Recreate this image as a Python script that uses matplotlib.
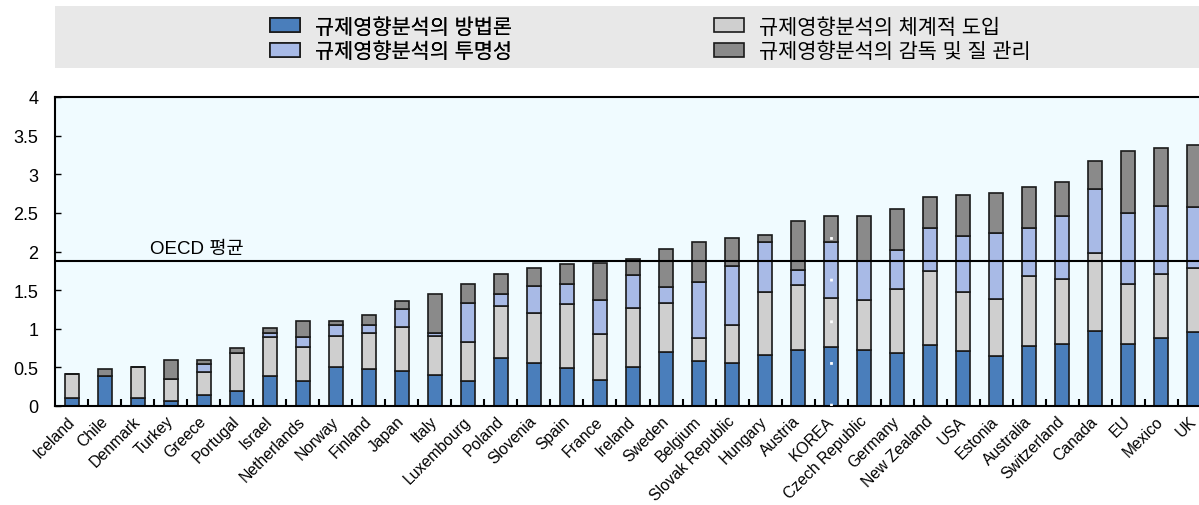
import matplotlib
matplotlib.use("Agg")
import matplotlib.pyplot as plt
from matplotlib.patches import Rectangle, Patch
import numpy as np

plt.rcParams['font.family'] = ['Liberation Sans', 'Noto Sans CJK KR']

# 국가 (정렬 순서 그대로)
paises = ["Iceland", "Chile", "Denmark", "Turkey", "Greece", "Portugal", "Israel",
          "Netherlands", "Norway", "Finland", "Japan", "Italy", "Luxembourg", "Poland",
          "Slovenia", "Spain", "France", "Ireland", "Sweden", "Belgium",
          "Slovak Republic", "Hungary", "Austria", "KOREA", "Czech Republic",
          "Germany", "New Zealand", "USA", "Estonia", "Australia", "Switzerland",
          "Canada", "EU", "Mexico", "UK"]

# 각 구성요소 점수 (쌓는 순서: 방법론, 체계적 도입, 투명성, 감독 및 질 관리)
metodologia = [0.10, 0.385, 0.11, 0.06, 0.14, 0.19, 0.39, 0.33, 0.505, 0.485, 0.458,
               0.406, 0.33, 0.62, 0.56, 0.49, 0.333, 0.51, 0.70, 0.584, 0.553, 0.666,
               0.726, 0.765, 0.726, 0.69, 0.787, 0.709, 0.648, 0.774, 0.80, 0.973,
               0.80, 0.882, 0.96]
sistematica = [0.31, 0.0, 0.40, 0.295, 0.30, 0.49, 0.505, 0.43, 0.405, 0.462, 0.567,
               0.494, 0.50, 0.67, 0.64, 0.83, 0.597, 0.765, 0.627, 0.302, 0.497, 0.804,
               0.834, 0.635, 0.64, 0.83, 0.963, 0.761, 0.732, 0.903, 0.84, 1.007,
               0.774, 0.83, 0.83]
transparencia = [0.0, 0.0, 0.0, 0.0, 0.11, 0.0, 0.055, 0.135, 0.145, 0.108, 0.229,
                 0.05, 0.497, 0.16, 0.356, 0.254, 0.44, 0.425, 0.208, 0.714, 0.766,
                 0.65, 0.195, 0.727, 0.514, 0.495, 0.55, 0.735, 0.86, 0.627, 0.824,
                 0.83, 0.921, 0.873, 0.787]
supervisao = [0.0, 0.09, 0.0, 0.245, 0.05, 0.07, 0.06, 0.205, 0.045, 0.12, 0.106,
              0.50, 0.253, 0.265, 0.23, 0.259, 0.48, 0.198, 0.495, 0.527, 0.364, 0.10,
              0.64, 0.329, 0.576, 0.535, 0.406, 0.523, 0.518, 0.532, 0.436, 0.363,
              0.808, 0.757, 0.808]
media_oecd = 1.88

rotulos = ["규제영향분석의 방법론", "규제영향분석의 투명성",
           "규제영향분석의 체계적 도입", "규제영향분석의 감독 및 질 관리"]
cor_azul = "#4a7ebb"
cor_azul_claro = "#a8bae6"
cor_cinza_claro = "#cfcfcf"
cor_cinza = "#8a8a8a"
cor_borda = "#1a1a1a"

fig = plt.figure(figsize=(11.99, 5.06), dpi=100)
ax = fig.add_axes([55 / 1199, 1 - 407 / 506, 1156 / 1199, 309 / 506])
ax.set_facecolor("#f0fbff")

x = np.arange(len(paises))
larg = 0.42
base = np.zeros(len(paises))
for valores, cor in [(metodologia, cor_azul), (sistematica, cor_cinza_claro),
                     (transparencia, cor_azul_claro), (supervisao, cor_cinza)]:
    v = np.array(valores)
    ax.bar(x, v, larg, bottom=base, color=cor, edgecolor=cor_borda, linewidth=1.2,
           zorder=2)
    base = base + v

# destaque pontilhado da Coreia
i_kr = paises.index("KOREA")
ax.vlines(i_kr, 0, base[i_kr], colors="white", linestyles=(0, (1, 14)),
          linewidth=2, zorder=3)

# linha da média OECD
ax.axhline(media_oecd, color="black", linewidth=1.5, zorder=4)
ax.text(2.35, media_oecd + 0.05, "OECD 평균", fontsize=13.5, va="bottom", ha="left")

ax.set_xlim(-0.515, len(paises) - 0.485)
ax.set_ylim(0, 4)
ax.set_yticks(np.arange(0, 4.01, 0.5))
ax.set_yticklabels(["0", "0.5", "1", "1.5", "2", "2.5", "3", "3.5", "4"], fontsize=13)
ax.tick_params(axis="y", direction="in", length=4, width=1, pad=12)

ax.set_xticks(x)
ax.set_xticklabels(paises, rotation=45, ha="right", va="center",
                   rotation_mode="anchor", fontsize=11.3)
ax.tick_params(axis="x", which="major", length=0, pad=9)
ax.set_xticks(x[:-1] + 0.5, minor=True)
ax.tick_params(axis="x", which="minor", direction="in", length=5, width=1.5)

for lado in ["top", "bottom", "left", "right"]:
    ax.spines[lado].set_linewidth(1.5)
    ax.spines[lado].set_color("black")

# faixa cinza da legenda
fig.add_artist(Rectangle((55 / 1199, 1 - 69 / 506), 1 - 55 / 1199, 62 / 506,
                         transform=fig.transFigure, facecolor="#e8e8e8",
                         edgecolor="none", zorder=0))
alcas = [Patch(facecolor=c, edgecolor=cor_borda, linewidth=1.2)
         for c in [cor_azul, cor_azul_claro, cor_cinza_claro, cor_cinza]]
estilo_leg = dict(loc="center left", frameon=False, fontsize=15, handlelength=1.45,
                  handleheight=0.67, labelspacing=0.22, handletextpad=0.7,
                  borderpad=0, borderaxespad=0)
leg1 = fig.legend(alcas[:2], rotulos[:2], bbox_to_anchor=(270 / 1199, 1 - 40 / 506),
                  **estilo_leg)
fig.add_artist(leg1)
fig.legend(alcas[2:], rotulos[2:], bbox_to_anchor=(714 / 1199, 1 - 40 / 506),
           **estilo_leg)

fig.savefig("out.png", dpi=100)
